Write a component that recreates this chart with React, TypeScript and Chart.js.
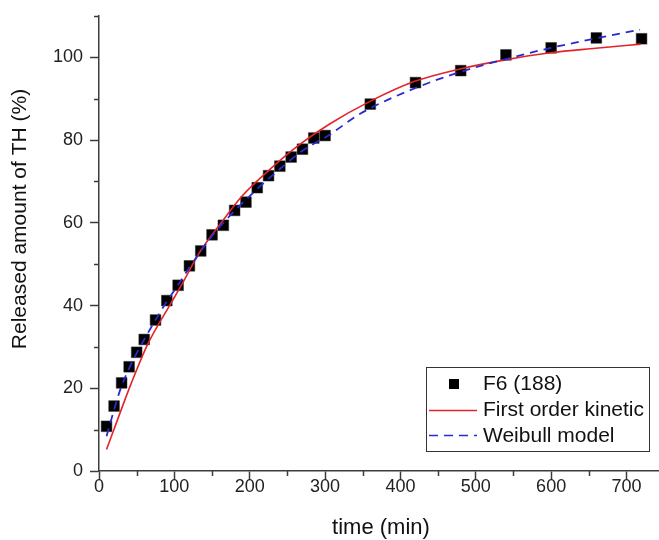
import React, { useEffect, useRef } from 'react';
import { Chart, registerables } from 'chart.js';

Chart.register(...registerables);

// ---- data ----
const timeMin = [10, 20, 30, 40, 50, 60, 75, 90, 105, 120, 135, 150, 165, 180, 195, 210, 225, 240, 255, 270, 285, 300, 360, 420, 480, 540, 600, 660, 720];
const releasedF6 = [10.8, 15.7, 21.3, 25.2, 28.7, 31.8, 36.5, 41.2, 44.9, 49.6, 53.2, 57.1, 59.4, 63.0, 65.0, 68.5, 71.4, 73.7, 75.9, 77.8, 80.5, 81.1, 88.7, 93.9, 96.8, 100.6, 102.3, 104.7, 104.5];

const firstOrderTime = [10, 25, 43, 65, 94, 109, 134, 165, 189, 226, 266, 306, 359, 419, 479, 539, 599, 659, 719];
const firstOrderRelease = [5.2, 12.6, 21.3, 30.8, 40.1, 44.8, 53.0, 60.7, 66.3, 72.8, 78.9, 83.9, 89.3, 94.2, 97.2, 99.4, 101.1, 102.2, 103.2];

const weibullTime = [10, 20, 30, 40, 50, 60, 75, 90, 105, 120, 150, 180, 210, 240, 270, 306, 346, 420, 480, 540, 600, 660, 718];
const weibullRelease = [8.4, 14.8, 20.6, 24.8, 28.5, 31.8, 36.5, 41.0, 45.0, 49.2, 56.8, 62.9, 68.2, 73.0, 77.4, 81.3, 86.3, 92.6, 96.5, 99.6, 102.3, 104.6, 106.7];

const xMajorTicks = [0, 100, 200, 300, 400, 500, 600, 700];
const xMinorTicks = [50, 150, 250, 350, 450, 550, 650];
const yMajorTicks = [0, 20, 40, 60, 80, 100];
const yMinorTicks = [10, 30, 50, 70, 90, 110];

const seriesLabels = ['F6 (188)', 'First order kinetic', 'Weibull model'];
const xTitle = 'time (min)';
const yTitle = 'Released amount of TH (%)';

// ---- styles ----
const FONT = '"Liberation Sans", Arial, sans-serif';
const AXIS = '#3c3c3c';
const RED = '#e3232b';
const BLUE = '#2a2ad0';

const decorPlugin = {
  id: 'decor',
  afterDraw(chart: any) {
    const { ctx, scales } = chart;
    const x = scales.x;
    const y = scales.y;
    ctx.save();
    // minor ticks
    ctx.strokeStyle = AXIS;
    ctx.lineWidth = 1.5;
    ctx.beginPath();
    xMinorTicks.forEach((v) => {
      const px = Math.round(x.getPixelForValue(v)) + 0.5;
      ctx.moveTo(px, y.bottom);
      ctx.lineTo(px, y.bottom + 5);
    });
    yMinorTicks.forEach((v) => {
      const py = Math.round(y.getPixelForValue(v)) + 0.5;
      ctx.moveTo(x.left, py);
      ctx.lineTo(x.left - 5, py);
    });
    ctx.stroke();

    // axis titles
    ctx.fillStyle = '#111';
    ctx.font = `22px ${FONT}`;
    ctx.textAlign = 'center';
    ctx.textBaseline = 'alphabetic';
    ctx.fillText(xTitle, 381, 534);

    ctx.save();
    ctx.translate(20, 219);
    ctx.rotate(-Math.PI / 2);
    ctx.font = `21px ${FONT}`;
    ctx.textBaseline = 'middle';
    ctx.fillText(yTitle, 0, 0);
    ctx.restore();

    // legend box
    const bx = 426.5, by = 367.5, bw = 223, bh = 84;
    ctx.fillStyle = '#fff';
    ctx.fillRect(bx, by, bw, bh);
    ctx.strokeStyle = '#333';
    ctx.lineWidth = 1;
    ctx.strokeRect(bx, by, bw, bh);

    const ds = chart.data.datasets;
    // marker
    ctx.fillStyle = ds[0].backgroundColor;
    ctx.fillRect(449, 379, 10, 10);
    // red line
    ctx.strokeStyle = ds[1].borderColor;
    ctx.lineWidth = 1.5;
    ctx.beginPath();
    ctx.moveTo(429, 410.5);
    ctx.lineTo(477, 410.5);
    ctx.stroke();
    // blue dashed
    ctx.strokeStyle = ds[2].borderColor;
    ctx.setLineDash([9, 6]);
    ctx.beginPath();
    ctx.moveTo(429, 435.5);
    ctx.lineTo(477, 435.5);
    ctx.stroke();
    ctx.setLineDash([]);

    ctx.fillStyle = '#111';
    ctx.font = `21px ${FONT}`;
    ctx.textAlign = 'left';
    ctx.textBaseline = 'alphabetic';
    ctx.fillText(seriesLabels[0], 483, 390);
    ctx.fillText(seriesLabels[1], 483, 416);
    ctx.fillText(seriesLabels[2], 483, 442);
    ctx.restore();
  },
};

export default function App() {
  const canvasRef = useRef<HTMLCanvasElement | null>(null);

  useEffect(() => {
    const canvas = canvasRef.current;
    if (!canvas) return;
    const chart = new Chart(canvas, {
      type: 'scatter',
      data: {
        datasets: [
          {
            label: seriesLabels[0],
            data: timeMin.map((t, i) => ({ x: t, y: releasedF6[i] })),
            pointStyle: 'rect',
            pointRadius: 7.6,
            backgroundColor: '#000',
            borderColor: '#333',
            borderWidth: 0.5,
            showLine: false,
            order: 2,
          },
          {
            label: seriesLabels[1],
            data: firstOrderTime.map((t, i) => ({ x: t, y: firstOrderRelease[i] })),
            showLine: true,
            borderColor: RED,
            backgroundColor: RED,
            borderWidth: 1.6,
            pointRadius: 0,
            cubicInterpolationMode: 'monotone',
            order: 1,
          },
          {
            label: seriesLabels[2],
            data: weibullTime.map((t, i) => ({ x: t, y: weibullRelease[i] })),
            showLine: true,
            borderColor: BLUE,
            backgroundColor: BLUE,
            borderWidth: 1.8,
            borderDash: [8, 6],
            pointRadius: 0,
            cubicInterpolationMode: 'monotone',
            order: 0,
          },
        ],
      },
      options: {
        responsive: false,
        animation: false,
        devicePixelRatio: 1,
        layout: { padding: { top: 16, left: 0, right: 0, bottom: 0 } },
        plugins: { legend: { display: false }, tooltip: { enabled: false } },
        scales: {
          x: {
            type: 'linear',
            position: 'bottom',
            min: 0,
            max: 743,
            afterBuildTicks: (s: any) => {
              s.ticks = xMajorTicks.map((v) => ({ value: v }));
            },
            afterFit: (s: any) => {
              s.height = 69;
              s.paddingRight = 0;
              s.paddingLeft = 0;
            },
            grid: { drawOnChartArea: false, drawTicks: true, tickLength: 9, tickColor: AXIS, tickWidth: 1.5 },
            border: { display: true, color: AXIS, width: 1.5 },
            ticks: {
              font: { family: FONT, size: 18 },
              color: '#222',
              padding: -4,
              maxRotation: 0,
              autoSkip: false,
            },
          },
          y: {
            type: 'linear',
            position: 'left',
            min: 0,
            max: 110,
            afterBuildTicks: (s: any) => {
              s.ticks = yMajorTicks.map((v) => ({ value: v }));
            },
            afterFit: (s: any) => {
              s.width = 99;
              s.paddingTop = 0;
              s.paddingBottom = 0;
            },
            grid: { drawOnChartArea: false, drawTicks: true, tickLength: 9, tickColor: AXIS, tickWidth: 1.5 },
            border: { display: true, color: AXIS, width: 1.5 },
            ticks: {
              font: { family: FONT, size: 18 },
              color: '#222',
              padding: 7,
              autoSkip: false,
            },
          },
        },
      },
      plugins: [decorPlugin],
    } as any);
    return () => chart.destroy();
  }, []);

  return (
    <div style={{ position: 'absolute', left: 0, top: 0, width: 659, height: 540, overflow: 'hidden', background: '#fff' }}>
      <canvas ref={canvasRef} width={667} height={540} style={{ display: 'block' }} />
    </div>
  );
}
